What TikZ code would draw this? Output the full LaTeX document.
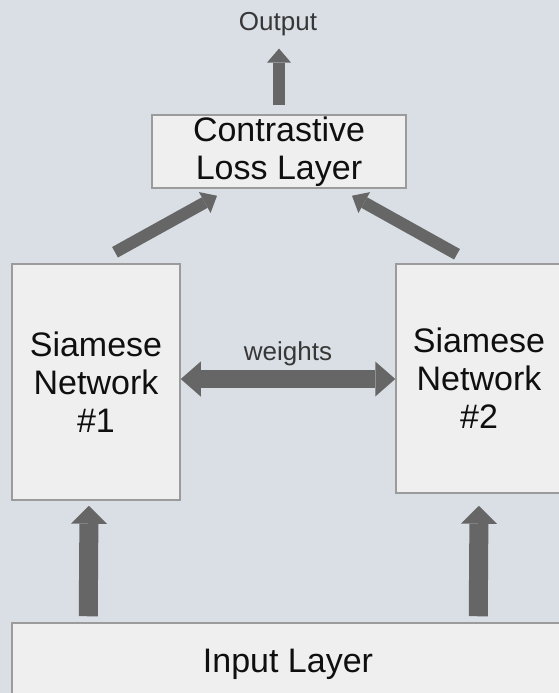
\documentclass[tikz,border=0pt]{standalone}
\usepackage{fontspec}
\setmainfont{Liberation Sans}
\usetikzlibrary{arrows.meta}
\definecolor{bg}{RGB}{217,223,229}
\definecolor{boxfill}{RGB}{239,239,239}
\definecolor{boxline}{RGB}{155,155,155}
\definecolor{arrowc}{RGB}{102,102,102}
\definecolor{txt}{RGB}{15,15,15}
\definecolor{smalltxt}{RGB}{55,55,55}
\begin{document}
\begin{tikzpicture}[x=1pt,y=-1pt,
  blk/.style={draw=boxline, fill=boxfill, line width=1.5pt, inner sep=0pt, align=center,
              text=txt, font=\fontsize{34}{38}\selectfont},
  arrS/.style={draw=arrowc, line width=12pt, -{Triangle[width=24pt,length=14pt,line width=0pt]}},
  arrU/.style={draw=arrowc, line width=19pt, -{Triangle[width=36pt,length=18pt,line width=0pt]}},
  arrW/.style={draw=arrowc, line width=18pt,
               {Triangle[width=35pt,length=20pt,line width=0pt]}-{Triangle[width=35pt,length=20pt,line width=0pt]}},
  small/.style={text=smalltxt, font=\fontsize{26}{30}\selectfont, inner sep=0pt}]
\fill[bg] (0,0) rectangle (559,693);
\useasboundingbox (0,0) rectangle (559,693);

\node[small, anchor=base] (out) at (278,31) {Output};
\node[blk, minimum width=254pt, minimum height=73pt] (cl) at (279,151.5) {Contrastive\\Loss Layer};
\node[blk, minimum width=168pt, minimum height=236pt] (s1) at (96,382) {Siamese\\Network\\\#1};
\node[blk, minimum width=166pt, minimum height=229pt] (s2) at (479,378.5) {Siamese\\Network\\\#2};
\node[blk, minimum width=552pt, minimum height=82pt] (in) at (288,664) {Input Layer};

\draw[arrS, shorten <=9pt, shorten >=12pt] (cl.north) -- (cl.north |- out.south);
\draw[arrS] ([shift={(19,-11)}]s1.north) -- ([shift={(-62,7)}]cl.south);
\draw[arrS] ([shift={(-22,-9)}]s2.north) -- ([shift={(73,7)}]cl.south);

\draw[arrW] ([yshift=3pt]s1.east) -- ([yshift=-0.5pt]s2.west)
  node[small, midway, anchor=base, yshift=19pt] (w) {weights};

\draw[arrU] ([shift={(77,-6)}]in.north west) -- ([shift={(-7,5)}]s1.south);
\draw[arrU] ([shift={(467,-6)}]in.north west) -- ([shift={(0,12)}]s2.south);
\end{tikzpicture}
\end{document}
